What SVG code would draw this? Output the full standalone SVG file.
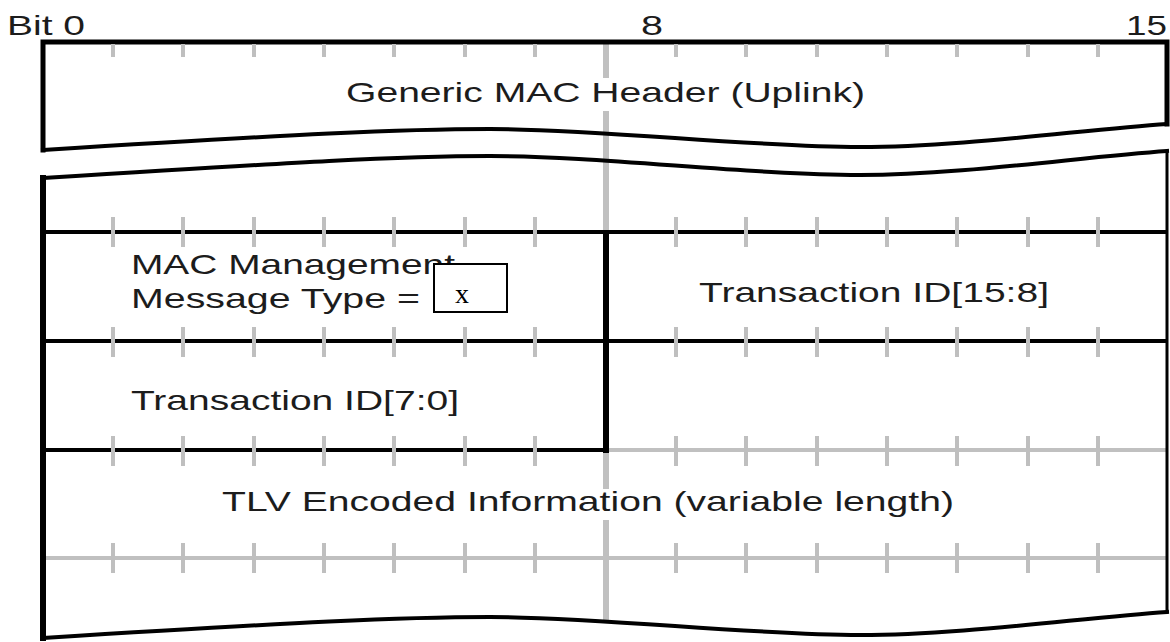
<svg xmlns="http://www.w3.org/2000/svg" xmlns:xlink="http://www.w3.org/1999/xlink" width="1170" height="642" viewBox="0 0 1170 642">
<style>
.t{font-family:"Liberation Sans",Arial,sans-serif;font-size:28px;fill:#1c1c1c;}
.g{stroke:#c0c0c0;fill:none;}
.tick{stroke:#bfbfbf;stroke-width:4;fill:none;}
.b{stroke:#000;fill:none;stroke-linecap:square;}
.bg{fill:#fff;}
</style>
<defs>
<path id="ticks" class="tick" d="M113,0v30M183,0v30M254,0v30M324,0v30M394,0v30M465,0v30M535,0v30M676,0v30M746,0v30M817,0v30M887,0v30M957,0v30M1028,0v30M1098,0v30"/>
</defs>
<rect width="1170" height="642" fill="#fff"/>

<g id="bit-labels">
<text class="t" x="7" y="35" textLength="78" lengthAdjust="spacingAndGlyphs">Bit 0</text>
<text class="t" x="641" y="35" textLength="22" lengthAdjust="spacingAndGlyphs">8</text>
<text class="t" x="1126" y="35" textLength="41" lengthAdjust="spacingAndGlyphs">15</text>
</g>

<g id="grid">
<path class="g" stroke-width="6" d="M606,44V622"/>
<path class="g" stroke-width="4" d="M46,558H1166M606,450H1166"/>
</g>

<g id="header-field">
<rect class="bg" x="346" y="78" width="520" height="33"/>
<text class="t" x="346" y="102" textLength="519" lengthAdjust="spacingAndGlyphs">Generic MAC Header (Uplink)</text>
</g>

<g id="tlv-field">
<rect class="bg" x="220" y="489" width="735" height="31"/>
<text class="t" x="222" y="511" textLength="732" lengthAdjust="spacingAndGlyphs">TLV Encoded Information (variable length)</text>
</g>

<g id="connectors">
<path class="b" stroke-width="5" d="M43,150V42H1167V124"/>
<path class="b" stroke-width="4" d="M43,150C300,134 400,129 490,129C600,129 750,147 860,147C960,147 1080,130 1167,124"/>
<path class="b" stroke-width="4" d="M43,178C300,162 400,156 490,156C600,156 750,175 860,175C960,175 1080,157 1167,151"/>
<path class="b" stroke-width="6" d="M43,178V638"/>
<path class="b" stroke-width="3" d="M1167,151V612"/>
<path class="b" stroke-width="4" d="M43,638C300,622 400,617 490,617C600,617 750,635 860,635C960,635 1080,618 1167,612"/>
<path class="b" stroke-width="4" d="M46,232H1166M46,341H1166M46,450H606"/>
<use xlink:href="#ticks" transform="translate(0,44) scale(1,0.43)"/>
<use xlink:href="#ticks" transform="translate(0,217)"/>
<use xlink:href="#ticks" transform="translate(0,327)"/>
<use xlink:href="#ticks" transform="translate(0,436)"/>
<use xlink:href="#ticks" transform="translate(0,543)"/>
<path stroke="#000" stroke-width="6" fill="none" d="M606,230V453"/>
</g>

<g id="mgmt-type-field">
<text class="t" x="131" y="274" textLength="324" lengthAdjust="spacingAndGlyphs">MAC Management</text>
<text class="t" x="131" y="308" textLength="289" lengthAdjust="spacingAndGlyphs">Message Type =</text>
</g>

<g id="type-value-box">
<rect x="434" y="264" width="73" height="48" fill="#fff" stroke="#000" stroke-width="2"/>
<text x="462" y="303" text-anchor="middle" font-family="Liberation Serif, Times New Roman, serif" font-size="28" fill="#000">x</text>
</g>

<g id="transaction-id-high">
<text class="t" x="699" y="302" textLength="350" lengthAdjust="spacingAndGlyphs">Transaction ID[15:8]</text>
</g>

<g id="transaction-id-low">
<text class="t" x="131" y="410" textLength="328" lengthAdjust="spacingAndGlyphs">Transaction ID[7:0]</text>
</g>
</svg>
